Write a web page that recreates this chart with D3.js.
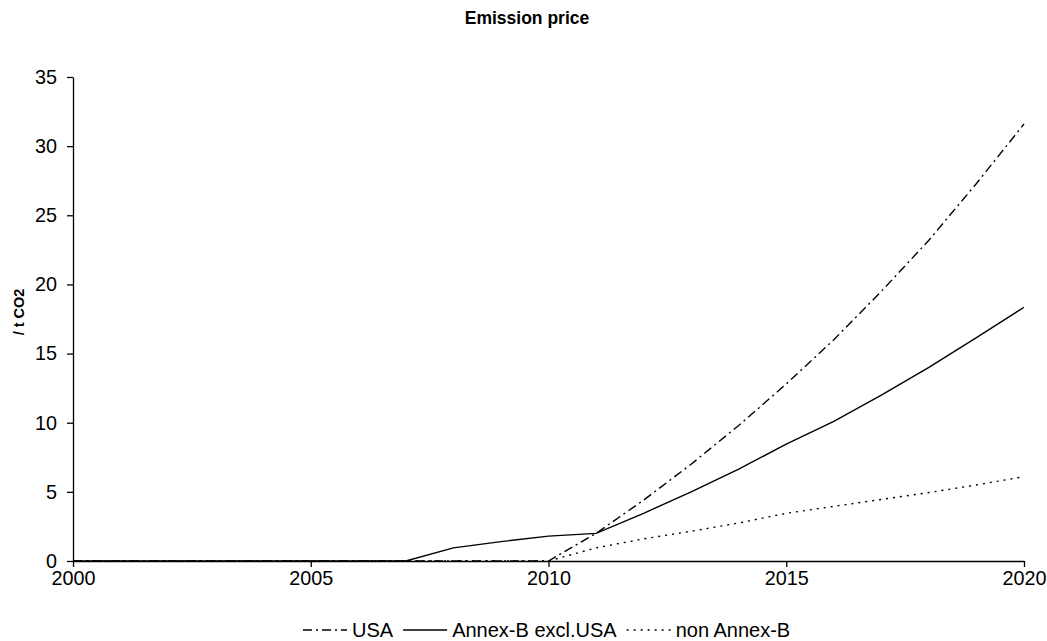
<!DOCTYPE html>
<html>
<head>
<meta charset="utf-8">
<script src="https://cdn.jsdelivr.net/npm/d3@7"></script>
<style>
body{margin:0;background:#fff;}
svg text{font-family:Arial,"Liberation Sans",sans-serif;fill:#000;}
</style>
</head>
<body>
<div id="chart"></div>
<script>
var width=1047;
var height=641;
var margin={top:77,right:23,bottom:80,left:73};

// data
var years=[2000,2001,2002,2003,2004,2005,2006,2007,2008,2009,2010,2011,2012,2013,2014,2015,2016,2017,2018,2019,2020];
var usa=[0,0,0,0,0,0,0,0,0,0,0,2.0,4.4,7.0,9.8,12.8,16.0,19.5,23.2,27.3,31.6];
var annexB=[0,0,0,0,0,0,0,0,0.95,1.4,1.8,2.0,3.45,5.0,6.65,8.45,10.1,12.0,14.0,16.15,18.35];
var nonAnnexB=[0,0,0,0,0,0,0,0,0,0,0,0.95,1.6,2.15,2.75,3.45,3.95,4.45,4.95,5.5,6.1];
var xTicks=[2000,2005,2010,2015,2020];
var yTicks=[0,5,10,15,20,25,30,35];

var series=[
  {name:"USA",values:usa,dash:"9,4,2,4"},
  {name:"Annex-B excl.USA",values:annexB,dash:null},
  {name:"non Annex-B",values:nonAnnexB,dash:"2,5"}
];

var svg=d3.select('#chart').append('svg')
  .attr('width',width)
  .attr('height',height);

var x=d3.scaleLinear().domain([2000,2020]).range([margin.left,width-margin.right]);
var y=d3.scaleLinear().domain([0,35]).range([height-margin.bottom,margin.top]);

// title
svg.append('text')
  .attr('x',527).attr('y',24)
  .attr('text-anchor','middle')
  .style('font-size','17.5px').style('font-weight','bold')
  .text('Emission price');

// y label
svg.append('text')
  .attr('transform','translate(24,312) rotate(-90)')
  .attr('text-anchor','middle')
  .style('font-size','14.5px').style('font-weight','bold')
  .text('/ t CO2');

// lines
var line=d3.line()
  .x(function(d,i){return x(years[i]);})
  .y(function(d){return y(d);});

svg.selectAll('.series')
  .data(series)
  .enter().append('path')
  .attr('class','series')
  .attr('d',function(s){return line(s.values);})
  .attr('fill','none')
  .attr('stroke','#000')
  .attr('stroke-width',1.4)
  .attr('stroke-dasharray',function(s){return s.dash;});

// axes
var yAxis=d3.axisLeft(y).tickValues(yTicks).tickSize(6).tickPadding(10).tickSizeOuter(0);
var gy=svg.append('g').attr('transform','translate('+margin.left+',0)').call(yAxis);
var xAxis=d3.axisBottom(x).tickValues(xTicks).tickSize(6).tickPadding(4).tickFormat(d3.format('d')).tickSizeOuter(0);
var gx=svg.append('g').attr('transform','translate(0,'+(height-margin.bottom)+')').call(xAxis);
[gx,gy].forEach(function(g){
  g.selectAll('text').style('font-size','19.8px').style('font-family','Arial,"Liberation Sans",sans-serif');
  g.selectAll('path,line').attr('stroke','#000').attr('stroke-width',1.3);
});

// legend
var legend=svg.append('g').attr('transform','translate(0,630)');
var lx=303;
series.forEach(function(s){
  legend.append('line')
    .attr('x1',lx).attr('x2',lx+44)
    .attr('y1',0).attr('y2',0)
    .attr('stroke','#000').attr('stroke-width',1.4)
    .attr('stroke-dasharray',s.dash);
  var t=legend.append('text')
    .attr('x',lx+49).attr('y',7)
    .style('font-size','20px')
    .text(s.name);
  lx+=49+t.node().getComputedTextLength()+10;
});
</script>
</body>
</html>
